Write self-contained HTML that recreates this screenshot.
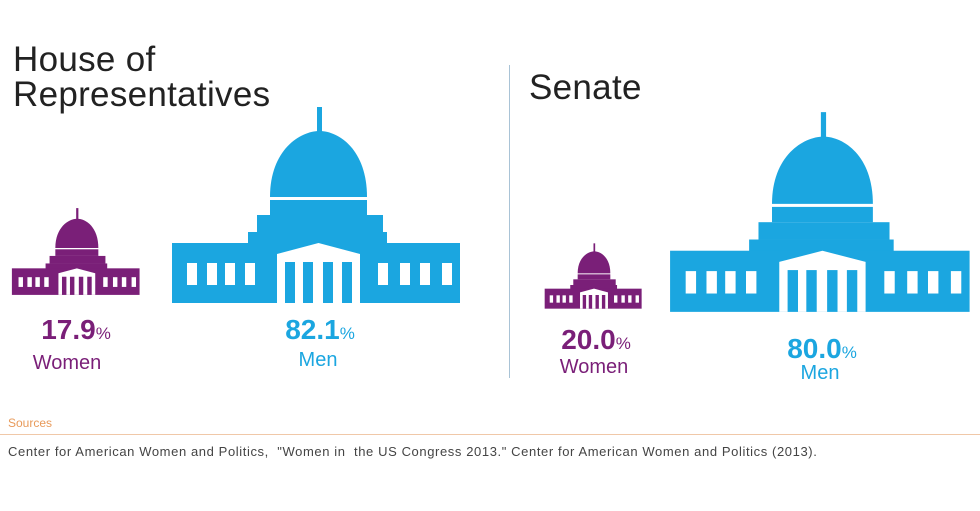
<!DOCTYPE html>
<html><head><meta charset="utf-8"><style>
body{margin:0;width:980px;height:511px;background:#fff;position:relative;overflow:hidden;font-family:"Liberation Sans",sans-serif}
.t{position:absolute;white-space:nowrap}
svg.c{position:absolute}
.pct{font-weight:bold;font-size:28px;text-align:center;width:160px}
.pct small{font-size:17px;font-weight:normal}
.lab{font-size:20px;text-align:center;width:160px}
.p{color:#7a1f78}.b{color:#1ba6e0}
</style></head><body>
<svg width="0" height="0" style="position:absolute"><defs>
<g id="cap">
<rect x="147" y="7" width="5" height="26"/>
<path d="M100 97 C100 50 130 31 149.5 31 C169 31 197 50 197 97 Z"/>
<rect x="100" y="100" width="97" height="15"/>
<rect x="87" y="115" width="126" height="17"/>
<rect x="78" y="132" width="139" height="13"/>
<rect x="2" y="143" width="288" height="60"/>
<polygon points="107,154 148.5,143 190,154 190,203 107,203" fill="#fff"/>
<rect x="115" y="162" width="10" height="41"/><rect x="133" y="162" width="10" height="41"/>
<rect x="153" y="162" width="10" height="41"/><rect x="172" y="162" width="10" height="41"/>
<g fill="#fff"><rect x="17" y="163" width="10" height="22"/><rect x="37" y="163" width="10" height="22"/><rect x="55" y="163" width="10" height="22"/><rect x="75" y="163" width="10" height="22"/>
<rect x="208" y="163" width="10" height="22"/><rect x="230" y="163" width="10" height="22"/><rect x="250" y="163" width="10" height="22"/><rect x="272" y="163" width="10" height="22"/></g>
</g></defs></svg>

<div class="t" style="left:13px;top:42px;font-size:35px;letter-spacing:0.3px;color:#222;line-height:35px">House of<br>Representatives</div>
<div class="t" style="left:529px;top:68px;font-size:35px;letter-spacing:0.3px;color:#222">Senate</div>
<div style="position:absolute;left:509px;top:65px;width:1px;height:313px;background:#a9c3d6"></div>

<svg class="c" style="left:11px;top:205px" width="133" height="93" viewBox="0 0 300 210" preserveAspectRatio="none" fill="#7a1f78"><use href="#cap"/></svg>
<svg class="c" style="left:170px;top:100px" width="300" height="210" viewBox="0 0 300 210" preserveAspectRatio="none" fill="#1ba6e0"><use href="#cap"/></svg>
<svg class="c" style="left:544px;top:241px" width="101" height="70" viewBox="0 0 300 210" preserveAspectRatio="none" fill="#7a1f78"><use href="#cap"/></svg>
<svg class="c" style="left:668px;top:105px" width="312" height="214" viewBox="0 0 300 210" preserveAspectRatio="none" fill="#1ba6e0"><use href="#cap"/></svg>

<div class="t pct p" style="left:-4px;top:314px">17.9<small>%</small></div>
<div class="t lab p" style="left:-13px;top:352px">Women</div>
<div class="t pct b" style="left:240px;top:314px">82.1<small>%</small></div>
<div class="t lab b" style="left:238px;top:349px">Men</div>
<div class="t pct p" style="left:516px;top:324px">20.0<small>%</small></div>
<div class="t lab p" style="left:514px;top:356px">Women</div>
<div class="t pct b" style="left:742px;top:333px">80.0<small>%</small></div>
<div class="t lab b" style="left:740px;top:362px">Men</div>

<div class="t" style="left:8px;top:416px;font-size:12px;color:#e89a5a">Sources</div>
<div style="position:absolute;left:0;top:434px;width:980px;height:1px;background:#f0c8a8"></div>
<div class="t" style="left:8px;top:444px;font-size:13px;letter-spacing:0.6px;color:#444">Center for American Women and Politics, &nbsp;"Women in &nbsp;the US Congress 2013." Center for American Women and Politics (2013).</div>
</body></html>
